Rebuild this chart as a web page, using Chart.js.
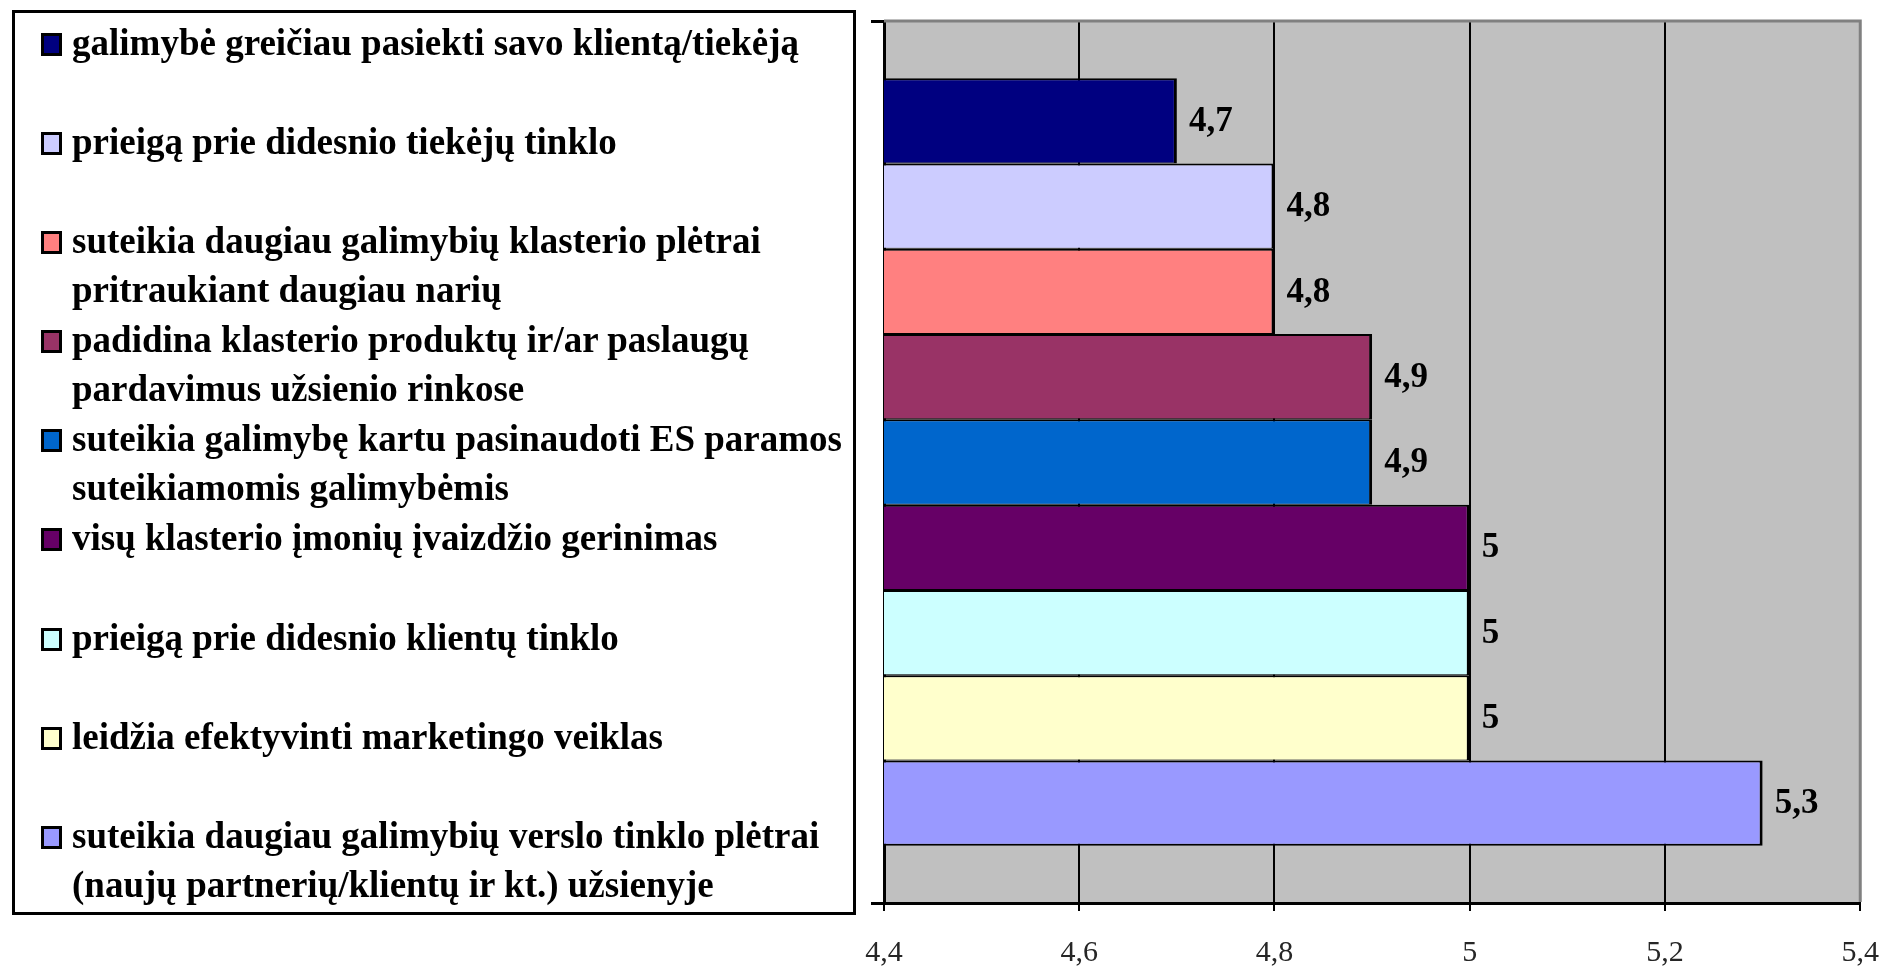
<!DOCTYPE html>
<html>
<head>
<meta charset="utf-8">
<script src="https://cdn.jsdelivr.net/npm/chart.js@4.4.0/dist/chart.umd.min.js"></script>
<style>
  html, body { margin: 0; padding: 0; background: #fff; overflow: hidden; }
  #wrap { position: relative; width: 1883px; height: 968px; overflow: hidden; }
  #my-chart { position: absolute; left: 0; top: 0; }
  #legend {
    position: absolute; left: 12px; top: 10px; width: 838px; height: 899px;
    border: 3px solid #000; box-sizing: content-box;
    font-family: "Liberation Serif", "Times New Roman", serif;
    font-weight: bold; font-size: 37px; color: #000; white-space: nowrap;
  }
  .item { position: relative; height: 99.1px; padding-left: 57px; line-height: 49px; }
  .item:first-child { margin-top: 5px; }
  .sw { position: absolute; left: 26px; top: 15px; width: 15px; height: 17px; border: 3px solid #000; }
</style>
</head>
<body>
<div id="wrap">
  <!-- canvas runs a little past the window so the plot reaches the right edge like the original -->
  <canvas id="my-chart" width="1903" height="995"></canvas>
  <div id="legend"></div>
</div>
<script>
const seriesNames = [
  ['galimybė greičiau pasiekti savo klientą/tiekėją'],
  ['prieigą prie didesnio tiekėjų tinklo'],
  ['suteikia daugiau galimybių klasterio plėtrai', 'pritraukiant daugiau narių'],
  ['padidina klasterio produktų ir/ar paslaugų', 'pardavimus užsienio rinkose'],
  ['suteikia galimybę kartu pasinaudoti ES paramos', 'suteikiamomis galimybėmis'],
  ['visų klasterio įmonių įvaizdžio gerinimas'],
  ['prieigą prie didesnio klientų tinklo'],
  ['leidžia efektyvinti marketingo veiklas'],
  ['suteikia daugiau galimybių verslo tinklo plėtrai', '(naujų partnerių/klientų ir kt.) užsienyje']
];
const seriesValues = [4.7, 4.8, 4.8, 4.9, 4.9, 5, 5, 5, 5.3];
const seriesColors = ['#000080', '#CCCCFF', '#FF8080', '#993366', '#0066CC', '#660066', '#CCFFFF', '#FFFFCC', '#9999FF'];
const xTicks = [4.4, 4.6, 4.8, 5, 5.2, 5.4];

function fmt(v) {
  return String(Math.round(v * 10) / 10).replace('.', ',');
}

// legend, built from the same arrays
const legendEl = document.getElementById('legend');
seriesNames.forEach((lines, i) => {
  const item = document.createElement('div');
  item.className = 'item';
  const sw = document.createElement('span');
  sw.className = 'sw';
  sw.style.background = seriesColors[i];
  item.appendChild(sw);
  lines.forEach(l => {
    const d = document.createElement('div');
    d.textContent = l;
    item.appendChild(d);
  });
  legendEl.appendChild(item);
});

const plotBg = {
  id: 'plotBg',
  beforeDraw(chart) {
    const { ctx, chartArea: a } = chart;
    ctx.save();
    ctx.fillStyle = '#C0C0C0';
    ctx.fillRect(a.left, a.top, a.right - a.left, a.bottom - a.top);
    ctx.restore();
  },
  afterDraw(chart) {
    const { ctx, chartArea: a } = chart;
    ctx.save();
    ctx.strokeStyle = '#808080';
    ctx.lineWidth = 3;
    ctx.beginPath();
    ctx.moveTo(a.left, a.top);
    ctx.lineTo(a.right, a.top);
    ctx.lineTo(a.right, a.bottom - 1);
    ctx.stroke();
    ctx.restore();
  }
};

const valueLabels = {
  id: 'valueLabels',
  afterDatasetsDraw(chart) {
    const ctx = chart.ctx;
    ctx.save();
    ctx.font = 'bold 35px "Liberation Serif", serif';
    ctx.fillStyle = '#000';
    ctx.textBaseline = 'middle';
    chart.data.datasets.forEach((ds, i) => {
      const bar = chart.getDatasetMeta(i).data[0];
      ctx.fillText(fmt(ds.data[0]), bar.x + 12, bar.y + 1);
    });
    ctx.restore();
  }
};

const last = seriesValues.length - 1;
const ctx = document.getElementById('my-chart').getContext('2d');
const chart = new Chart(ctx, {
  type: 'bar',
  data: {
    labels: [''],
    datasets: seriesValues.map((v, i) => ({
      label: seriesNames[i].join(' '),
      data: [v],
      backgroundColor: seriesColors[i],
      borderColor: '#000',
      borderWidth: { top: 2, bottom: i === last ? 2 : 1, left: 3, right: 3 },
      borderSkipped: false,
      barPercentage: 1,
      categoryPercentage: 0.87
    }))
  },
  options: {
    responsive: false,
    indexAxis: 'y',
    animation: false,
    layout: { padding: { left: 871, top: 21, right: 0, bottom: 0 } },
    plugins: { legend: { display: false }, tooltip: { enabled: false } },
    scales: {
      x: {
        min: xTicks[0],
        max: xTicks[xTicks.length - 1],
        ticks: {
          stepSize: 0.2,
          padding: 24,
          color: '#262626',
          font: { family: '"Liberation Serif", serif', size: 30 },
          callback: v => fmt(v)
        },
        grid: { color: '#000', lineWidth: 2, tickLength: 8 },
        border: { color: '#000', width: 3 }
      },
      y: {
        ticks: { display: false },
        grid: { drawOnChartArea: false, color: '#000', lineWidth: 3, tickLength: 13 },
        border: { color: '#000', width: 3 }
      }
    }
  },
  plugins: [plotBg, valueLabels]
});
</script>
</body>
</html>
